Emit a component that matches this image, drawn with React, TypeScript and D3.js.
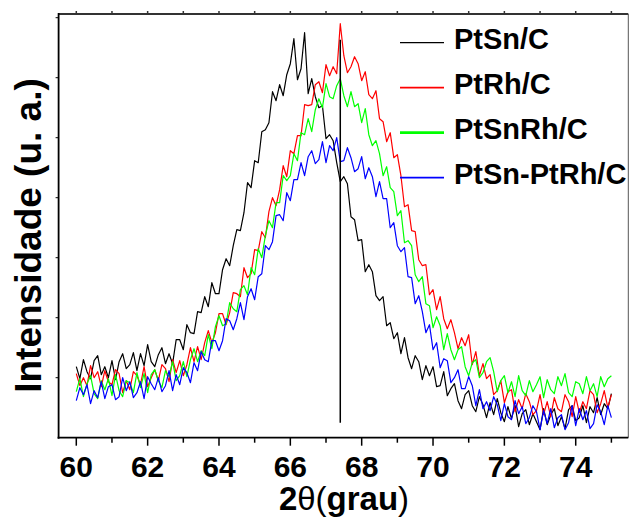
import React from 'react';
import * as d3 from 'd3';

// 2θ sampling: 60.0° to 75.0° every 0.1°
const ANGLE_START = 60;
const ANGLE_STEP = 0.1;

// Intensities (arbitrary units), one value per 0.1° step
const ptSnC = [71,59,78,66,59,77,82,63,71,60,
77,58,76,84,69,73,85,67,84,72,
93,76,71,83,90,74,84,74,98,98,
88,113,105,104,126,125,141,131,155,144,
144,168,179,172,192,208,207,225,255,250,
277,275,306,308,315,346,337,353,342,363,
374,399,358,369,405,344,359,341,330,332,
299,303,297,275,256,261,254,221,218,197,
198,166,173,166,142,137,141,112,115,99,
105,84,100,80,69,82,76,58,72,62,
71,51,52,66,42,49,54,37,29,43,
47,32,26,41,33,20,35,23,39,25,
16,31,19,32,11,24,28,13,24,16,
8,29,13,23,29,12,21,9,28,32,
17,20,32,15,31,25,40,23,34,29,
44];

const ptRhC = [64,52,60,52,72,60,66,51,67,56,
53,68,64,45,57,48,66,62,53,71,
51,60,68,57,73,69,56,78,65,77,
62,73,90,76,91,78,95,107,95,105,
124,124,113,125,145,144,141,170,160,164,
188,187,206,200,226,240,232,248,272,261,
287,284,302,302,333,332,333,353,356,345,
373,362,371,364,414,382,365,371,381,374,
357,366,343,339,347,319,316,296,305,280,
283,262,231,233,207,206,178,172,173,143,
148,128,141,119,109,118,105,89,100,92,
103,73,86,62,74,59,63,43,47,57,
35,46,48,26,38,29,44,36,23,27,
43,23,36,21,40,29,26,43,36,21,
41,25,36,29,47,43,25,34,47,30,
43];

const ptSnRhC = [46,59,41,54,62,44,39,57,48,59,
42,63,47,41,57,55,45,65,50,64,
45,63,68,57,50,67,61,76,57,62,
76,61,78,89,76,87,82,103,89,111,
122,112,114,135,129,126,148,152,143,170,
163,189,180,202,217,210,235,235,262,257,
262,284,277,305,303,319,306,328,339,330,
354,341,339,352,359,342,331,346,331,334,
315,329,303,292,297,284,262,271,250,246,
222,227,195,197,192,163,156,161,134,132,
110,121,112,88,104,88,78,88,91,71,
62,75,78,60,65,76,80,66,46,57,
62,45,56,41,62,47,42,57,46,53,
61,40,58,48,44,61,52,64,45,41,
56,54,44,61,47,54,41,61,51,59,
62];

const ptSnPtRhC = [37,50,43,53,34,47,40,56,39,51,
53,38,41,60,47,56,40,45,56,39,
61,54,48,60,46,52,67,47,63,53,
70,65,55,75,67,86,78,76,97,97,
87,97,119,117,108,119,135,118,141,149,
138,161,164,192,188,196,222,223,217,245,
237,258,258,275,262,281,287,274,278,296,
275,292,287,300,276,277,290,280,266,269,
281,259,270,261,241,256,239,239,210,215,
192,186,190,161,160,134,142,126,105,113,
88,95,70,79,77,55,60,68,49,49,
61,52,32,48,29,36,27,41,33,17,
34,21,18,37,24,31,14,20,32,26,
8,27,14,29,10,20,23,8,15,32,
12,29,18,27,9,14,33,26,13,32,
20];

const seriesNames = ['PtSn/C', 'PtRh/C', 'PtSnRh/C', 'PtSn-PtRh/C'];
const seriesColors = ['#000000', '#ff0000', '#00ff00', '#0000ff'];
const legendWidths = [1.2, 1.8, 2.8, 1.8];

// reference line (Pt) position and extent
const referenceAngle = 67.4;
const referenceExtent = [15, 398];

const xMajorTicks = [60, 62, 64, 66, 68, 70, 72, 74];
const xMinorTicks = [61, 63, 65, 67, 69, 71, 73, 75];
const xAllTicks = [60, 61, 62, 63, 64, 65, 66, 67, 68, 69, 70, 71, 72, 73, 74, 75];
const yTicks = [60, 120, 180, 240, 300, 360, 420];

const FONT = "'Liberation Sans', Arial, Helvetica, sans-serif";

export default function App() {
  const W = 629;
  const H = 517;
  const left = 58.6, right = 628.3, top = 14, bottom = 437.7;
  const x = d3.scaleLinear().domain([59.504, 75.474]).range([left, right]);
  const y = d3.scaleLinear().domain([0, 423.7]).range([bottom, top]);

  const series = [ptSnC, ptRhC, ptSnRhC, ptSnPtRhC];
  const line = d3
    .line<number>()
    .x((_, i) => x(ANGLE_START + i * ANGLE_STEP))
    .y((d) => y(d));

  return (
    <svg
      width={W}
      height={H}
      style={{ position: 'absolute', left: 0, top: 0, background: '#fff' }}
      fontFamily={FONT}
    >
      <defs>
        <clipPath id="plot">
          <rect x={left} y={top} width={right - left} height={bottom - top} />
        </clipPath>
      </defs>
      <rect x={0} y={0} width={W} height={H} fill="#fff" />

      <g clipPath="url(#plot)">
        {series.map((s, k) => (
          <path
            key={k}
            d={line(s) || ''}
            fill="none"
            stroke={seriesColors[k]}
            strokeWidth={1.2}
            strokeLinejoin="round"
          />
        ))}
        <line
          x1={x(referenceAngle)}
          x2={x(referenceAngle)}
          y1={y(referenceExtent[0])}
          y2={y(referenceExtent[1])}
          stroke="#000"
          strokeWidth={1.5}
        />
      </g>

      {/* frame */}
      <line x1={left} x2={right} y1={top} y2={top} stroke="#333" strokeWidth={2.2} />
      <line x1={right} x2={right} y1={top} y2={bottom} stroke="#555" strokeWidth={1} />
      <line x1={left} x2={left} y1={top - 1} y2={bottom + 1} stroke="#000" strokeWidth={1.8} />
      <line x1={left - 1} x2={right} y1={bottom} y2={bottom} stroke="#000" strokeWidth={1.8} />

      {/* top ticks */}
      {xAllTicks.map((t) => (
        <line key={'tt' + t} x1={x(t)} x2={x(t)} y1={top} y2={top - 3} stroke="#333" strokeWidth={1.5} />
      ))}
      {/* left ticks */}
      {yTicks.map((t) => (
        <line key={'yt' + t} x1={left} x2={left - 3} y1={y(t)} y2={y(t)} stroke="#000" strokeWidth={1} />
      ))}
      {/* bottom ticks */}
      {xMajorTicks.map((t) => (
        <line key={'xm' + t} x1={x(t)} x2={x(t)} y1={bottom} y2={bottom + 8} stroke="#000" strokeWidth={1.5} />
      ))}
      {xMinorTicks.map((t) => (
        <line key={'xn' + t} x1={x(t)} x2={x(t)} y1={bottom} y2={bottom + 5} stroke="#000" strokeWidth={1.5} />
      ))}
      {xMajorTicks.map((t) => (
        <text key={'xl' + t} x={x(t)} y={477} textAnchor="middle" fontSize={30} fontWeight="bold" fill="#000">
          {t}
        </text>
      ))}

      {/* axis titles */}
      <text x={344} y={510} textAnchor="middle" fontSize={33} fill="#000">
        <tspan fontWeight="bold">2</tspan>
        <tspan fontWeight="normal">θ(</tspan>
        <tspan fontWeight="bold">grau</tspan>
        <tspan fontWeight="normal">)</tspan>
      </text>
      <text
        transform="translate(40.7,235.5) rotate(-90)"
        textAnchor="middle"
        fontSize={37}
        fontWeight="bold"
        fill="#000"
      >
        Intensidade (u. a.)
      </text>

      {/* legend */}
      {seriesNames.map((name, k) => {
        const ly = 42.7 + k * 45;
        return (
          <g key={name}>
            <line x1={400} x2={444} y1={ly} y2={ly} stroke={seriesColors[k]} strokeWidth={legendWidths[k]} />
            <text x={454} y={ly + 6} fontSize={29} fontWeight="bold" fill="#000">
              {name}
            </text>
          </g>
        );
      })}
    </svg>
  );
}
